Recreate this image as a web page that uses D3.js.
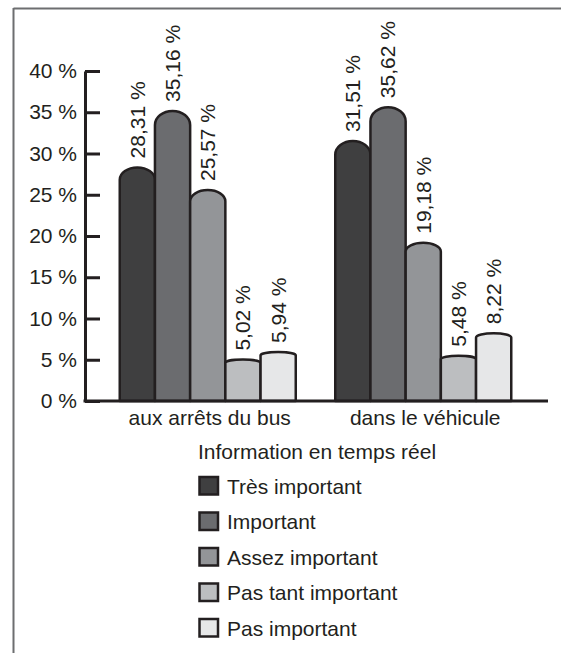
<!DOCTYPE html>
<html>
<head>
<meta charset="utf-8">
<script src="https://cdn.jsdelivr.net/npm/d3@7"></script>
<style>
  html, body { margin: 0; padding: 0; background: #fff; }
  svg { display: block; }
  text { font-family: "Liberation Sans", Arial, sans-serif; fill: #231f20; }
</style>
</head>
<body>
<svg id="chart" width="561" height="653"></svg>
<script>
const categories = ["aux arrêts du bus", "dans le véhicule"];
const series = ["Très important", "Important", "Assez important", "Pas tant important", "Pas important"];
const valuesArrets = [28.31, 35.16, 25.57, 5.02, 5.94];
const valuesVehicule = [31.51, 35.62, 19.18, 5.48, 8.22];
const yTicks = [0, 5, 10, 15, 20, 25, 30, 35, 40];
const colors = ["#3f3f40", "#6b6c6f", "#939598", "#bcbec0", "#e6e7e8"];
const legendTitle = "Information en temps réel";

const data = [valuesArrets, valuesVehicule];
const svg = d3.select("#chart");
const FS = 21;

// frame
svg.append("line").attr("x1", 13.5).attr("x2", 561).attr("y1", 8.5).attr("y2", 8.5)
  .attr("stroke", "#6d6e70").attr("stroke-width", 2);
svg.append("line").attr("x1", 13.5).attr("x2", 13.5).attr("y1", 8).attr("y2", 653)
  .attr("stroke", "#6d6e70").attr("stroke-width", 2);

const y = d3.scaleLinear().domain([0, 40]).range([401, 71]);
const x0 = d3.scaleBand().domain(categories).range([100, 531]);
const groupW = 176;
const x1 = d3.scaleBand().domain(series).range([0, groupW]);
const fmt = v => d3.format(".2f")(v).replace(".", ",") + " %";

const g = svg.append("g");
categories.forEach((cat, ci) => {
  const gx = x0(cat) + (x0.bandwidth() - groupW) / 2;
  series.forEach((s, si) => {
    const v = data[ci][si];
    const xa = gx + x1(s), xb = xa + x1.bandwidth();
    const rx = x1.bandwidth() / 2;
    const ry = Math.min(rx * 0.8, v * 0.4 + 1);
    const top = y(v);
    const base = y(0);
    g.append("path")
      .attr("d", `M${xa},${base} L${xa},${top + ry} A${rx},${ry} 0 0 1 ${xb},${top + ry} L${xb},${base} Z`)
      .attr("fill", colors[si])
      .attr("stroke", "#231f20")
      .attr("stroke-width", 2.5)
      .attr("stroke-linejoin", "round");
    g.append("text")
      .attr("transform", `translate(${xa + rx},${top - 9}) rotate(-90)`)
      .attr("dy", "0.35em")
      .attr("font-size", FS)
      .text(fmt(v));
  });
});

// y axis
const yAxis = d3.axisLeft(y).tickValues(yTicks).tickSizeInner(-15).tickSizeOuter(0)
  .tickPadding(8).tickFormat(d => d + " %");
const ya = svg.append("g").attr("transform", "translate(85,0)").call(yAxis);
ya.selectAll("path, line").attr("stroke", "#231f20").attr("stroke-width", 3);
ya.selectAll("text").attr("font-size", FS).attr("font-family", "Liberation Sans, Arial, sans-serif").attr("fill", "#231f20");

// x axis line
svg.append("line").attr("x1", 83.5).attr("x2", 548).attr("y1", y(0)).attr("y2", y(0))
  .attr("stroke", "#231f20").attr("stroke-width", 3);

// category labels
svg.selectAll(".cat").data(categories).enter().append("text")
  .attr("x", d => x0(d) + x0.bandwidth() / 2 + 2)
  .attr("y", 425)
  .attr("text-anchor", "middle")
  .attr("font-size", FS)
  .text(d => d);

// legend
svg.append("text").attr("x", 317).attr("y", 459).attr("text-anchor", "middle")
  .attr("font-size", FS).text(legendTitle);
const lg = svg.append("g");
series.forEach((s, i) => {
  const ly = 477 + i * 35.5;
  lg.append("rect").attr("x", 199.5).attr("y", ly).attr("width", 18.5).attr("height", 17.5)
    .attr("fill", colors[i]).attr("stroke", "#231f20").attr("stroke-width", 2.5);
  lg.append("text").attr("x", 227).attr("y", ly + 16.5).attr("font-size", FS).text(s);
});
</script>
</body>
</html>
